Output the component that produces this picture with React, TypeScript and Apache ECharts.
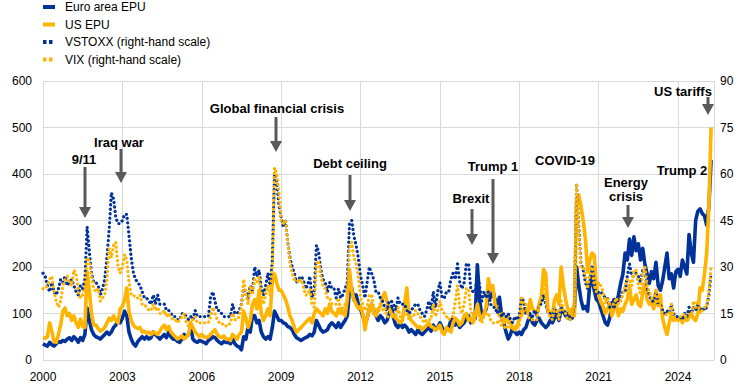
import React, { useEffect, useRef } from "react";
import * as echarts from "echarts";

// Monthly data, January 2000 to April 2025
const startYear = 2000;
const xTickYears = [2000, 2003, 2006, 2009, 2012, 2015, 2018, 2021, 2024];

const euroEPU = [
  35, 32, 30, 38, 33, 30, 35, 40, 38, 42, 40, 45,
  48, 42, 50, 45, 38, 48, 42, 55, 112, 85, 65, 55,
  50, 48, 45, 50, 55, 60, 55, 60, 70, 75, 85, 80,
  90, 105, 95, 60, 45, 35, 30, 40, 45, 50, 45, 50,
  45, 48, 60, 55, 50, 45, 50, 55, 48, 60, 50, 45,
  45, 40, 38, 45, 55, 50, 55, 70, 45, 40, 38, 42,
  40, 38, 35, 42, 45, 50, 48, 42, 38, 35, 40, 38,
  38, 35, 45, 35, 30, 28, 22, 50, 45, 70, 60, 95,
  95, 80, 85, 60, 50, 45, 50, 45, 70, 105, 95, 85,
  85, 80, 78, 72, 70, 65, 55, 48, 45, 42, 45, 48,
  50, 55, 52, 60, 85, 75, 65, 60, 62, 65, 75, 80,
  75, 70, 80, 70, 78, 85, 95, 150, 155, 130, 140, 120,
  110, 95, 80, 90, 110, 120, 105, 95, 85, 95, 90, 80,
  85, 100, 115, 90, 75, 70, 80, 70, 75, 70, 60, 65,
  60, 55, 65, 58, 55, 60, 65, 70, 62, 75, 65, 70,
  80, 70, 60, 65, 70, 85, 90, 75, 80, 70, 75, 80,
  90, 95, 80, 85, 90, 205, 130, 95, 100, 110, 140, 135,
  150, 130, 120, 135, 95, 80, 60, 45, 55, 70, 60, 55,
  60, 55, 65, 70, 85, 95, 80, 75, 85, 90, 80, 75,
  70, 75, 85, 80, 90, 100, 85, 110, 105, 95, 100, 90,
  90, 110, 200, 160, 130, 110, 115, 105, 165, 175, 150, 130,
  125, 110, 95, 80, 75, 90, 115, 130, 120, 140, 165, 185,
  230, 215, 260, 225, 265, 235, 250, 215, 240, 205, 185, 165,
  190, 175, 210, 160, 150, 170, 200, 230, 175, 185, 155, 190,
  195, 180, 215, 200, 185, 270, 230, 210, 300, 320, 325, 315,
  310, 290, 330, 430,
];

const usEPU = [
  48, 47, 50, 80, 62, 40, 38, 55, 75, 105, 112, 95,
  100, 85, 95, 80, 70, 88, 72, 70, 190, 150, 100, 75,
  75, 68, 62, 65, 70, 80, 90, 85, 95, 85, 80, 110,
  115, 130, 155, 105, 85, 75, 70, 68, 70, 60, 62, 58,
  60, 55, 60, 58, 55, 62, 70, 75, 65, 72, 60, 55,
  50, 45, 48, 52, 45, 50, 55, 80, 70, 60, 55, 50,
  55, 50, 48, 50, 55, 60, 65, 55, 50, 48, 52, 45,
  45, 42, 55, 50, 45, 55, 60, 105, 90, 70, 85, 120,
  130, 110, 150, 100, 85, 95, 110, 95, 170, 185, 165, 150,
  150, 140, 130, 115, 95, 85, 70, 60, 65, 70, 75, 80,
  85, 90, 80, 100, 110, 105, 100, 95, 110, 100, 120, 105,
  100, 95, 110, 100, 105, 95, 130, 195, 150, 130, 120, 110,
  115, 100, 65, 90, 110, 120, 100, 95, 110, 115, 135, 145,
  125, 110, 100, 95, 90, 85, 80, 85, 120, 155, 95, 85,
  80, 75, 70, 72, 65, 70, 75, 80, 72, 70, 65, 68,
  75, 60, 55, 70, 65, 60, 80, 90, 85, 75, 80, 95,
  100, 85, 90, 80, 95, 120, 95, 90, 100, 115, 175, 150,
  160, 120, 110, 95, 100, 80, 85, 95, 80, 70, 65, 70,
  90, 95, 110, 105, 100, 130, 110, 105, 100, 120, 135, 195,
  185, 110, 100, 95, 130, 140, 120, 200, 160, 130, 110, 100,
  110, 95, 340, 355, 330, 300, 260, 190, 215, 230, 225, 155,
  140, 125, 115, 100, 110, 120, 95, 110, 120, 95, 110, 105,
  120, 130, 160, 120, 130, 140, 120, 115, 145, 165, 130, 120,
  125, 110, 150, 120, 140, 90, 70, 55, 80, 100, 85, 90,
  85, 90, 80, 95, 85, 95, 100, 90, 85, 100, 155, 150,
  185, 230, 330, 500,
];

const vstoxx = [
  28, 27, 24, 22, 25, 22, 21, 23, 26, 25, 27, 24,
  25, 26, 24, 22, 21, 24, 23, 26, 43, 35, 28, 25,
  25, 24, 21, 23, 26, 33, 42, 54, 52, 46, 44, 44,
  45, 47, 47, 40, 33, 28, 26, 25, 24, 22, 20, 20,
  19, 18, 21, 18, 21, 18, 18, 18, 16, 16, 15, 14,
  14, 13, 13, 15, 15, 14, 13, 14, 13, 16, 14, 14,
  14, 14, 14, 14, 20, 22, 19, 16, 16, 15, 14, 14,
  14, 14, 18, 15, 15, 16, 18, 23, 22, 20, 24, 22,
  30, 27, 29, 23, 21, 24, 28, 24, 32, 60, 58, 50,
  46, 43, 45, 38, 33, 30, 28, 25, 26, 27, 26, 23,
  24, 27, 20, 22, 37, 35, 29, 26, 25, 22, 25, 23,
  23, 20, 23, 20, 21, 23, 25, 44, 45, 40, 37, 33,
  27, 24, 20, 25, 30, 28, 26, 22, 22, 20, 19, 17,
  16, 19, 19, 18, 16, 20, 18, 18, 18, 16, 15, 16,
  17, 18, 18, 16, 15, 14, 16, 19, 16, 22, 17, 22,
  25, 20, 20, 22, 22, 26, 28, 26, 31, 25, 23, 25,
  31, 31, 23, 22, 22, 28, 24, 19, 22, 20, 22, 18,
  17, 17, 15, 17, 14, 15, 14, 15, 13, 12, 14, 13,
  14, 20, 19, 15, 15, 15, 14, 16, 14, 18, 18, 21,
  18, 15, 15, 13, 17, 15, 14, 18, 15, 16, 13, 13,
  14, 18, 57, 43, 31, 29, 25, 23, 25, 30, 25, 21,
  22, 22, 21, 20, 20, 17, 19, 17, 19, 19, 20, 22,
  22, 27, 31, 27, 27, 28, 27, 25, 29, 29, 23, 21,
  19, 19, 22, 18, 18, 16, 15, 16, 15, 18, 15, 14,
  14, 14, 13, 15, 14, 17, 15, 17, 16, 18, 16, 17,
  16, 17, 21, 28,
];

const vix = [
  23, 23, 24, 26, 27, 22, 19, 17, 19, 24, 26, 27,
  25, 24, 29, 28, 22, 20, 21, 23, 33, 32, 27, 23,
  22, 23, 19, 20, 21, 26, 36, 33, 37, 38, 30, 28,
  30, 34, 32, 25, 21, 21, 20, 20, 21, 18, 18, 17,
  16, 16, 18, 16, 17, 15, 15, 16, 14, 15, 14, 13,
  13, 12, 13, 14, 15, 12, 11, 13, 13, 14, 12, 12,
  12, 12, 12, 12, 14, 17, 15, 13, 12, 12, 11, 11,
  11, 12, 15, 13, 13, 14, 17, 26, 21, 18, 24, 21,
  26, 25, 27, 21, 18, 21, 24, 21, 29, 62, 60, 54,
  45, 44, 45, 38, 31, 28, 26, 26, 25, 26, 24, 21,
  21, 23, 18, 17, 31, 32, 27, 24, 23, 20, 20, 18,
  18, 18, 20, 16, 17, 18, 19, 36, 38, 33, 31, 27,
  20, 18, 16, 17, 21, 21, 17, 16, 16, 16, 16, 17,
  14, 14, 14, 14, 14, 17, 14, 14, 15, 15, 13, 14,
  14, 16, 15, 14, 13, 12, 13, 13, 13, 18, 14, 16,
  19, 16, 15, 14, 13, 14, 14, 19, 24, 17, 15, 18,
  23, 23, 16, 14, 15, 17, 13, 12, 14, 15, 15, 13,
  12, 12, 12, 13, 11, 11, 10, 12, 10, 10, 11, 11,
  11, 20, 18, 18, 14, 13, 13, 13, 13, 18, 20, 25,
  20, 15, 14, 13, 17, 16, 13, 19, 16, 15, 13, 13,
  14, 19, 57, 41, 30, 30, 27, 23, 28, 30, 24, 22,
  25, 24, 22, 18, 20, 18, 18, 18, 20, 18, 19, 21,
  24, 26, 26, 24, 29, 29, 24, 21, 28, 30, 24, 22,
  20, 20, 22, 17, 18, 14, 14, 15, 15, 18, 14, 13,
  13, 14, 14, 15, 13, 13, 14, 19, 17, 19, 15, 16,
  17, 17, 22, 30,
];

const seriesNames = [
  "Euro area EPU",
  "US EPU",
  "VSTOXX (right-hand scale)",
  "VIX (right-hand scale)",
];

// Event annotations (pixel layout)
const annotations = [
  { label: "9/11", tx: 84, ty: 159, ax: 85, a0: 167, a1: 218 },
  { label: "Iraq war", tx: 119, ty: 142, ax: 121, a0: 149, a1: 183 },
  { label: "Global financial crisis", tx: 277, ty: 108, ax: 276, a0: 117, a1: 152 },
  { label: "Debt ceiling", tx: 350, ty: 163, ax: 350, a0: 175, a1: 211 },
  { label: "Brexit", tx: 471, ty: 198, ax: 472, a0: 209, a1: 245 },
  { label: "Trump 1", tx: 493, ty: 166, ax: 493, a0: 179, a1: 264 },
  { label: "COVID-19", tx: 565, ty: 160 },
  { label: "Energy\ncrisis", tx: 626, ty: 189, ax: 628, a0: 205, a1: 228 },
  { label: "Trump 2", tx: 682, ty: 170 },
  { label: "US tariffs", tx: 683, ty: 91, ax: 708, a0: 97, a1: 115 },
];

const BLUE = "#003299";
const YELLOW = "#FFB400";
const ARROW = "#595959";
const FONT = 'Arial, "Liberation Sans", sans-serif';

const toPoints = (arr: number[]) => arr.map((v, i) => [startYear + i / 12, v]);

export default function App() {
  const ref = useRef<HTMLDivElement>(null);

  useEffect(() => {
    if (!ref.current) return;
    const chart = echarts.init(ref.current, null, { renderer: "svg" });

    const graphic: any[] = [];
    annotations.forEach((a) => {
      graphic.push({
        type: "text",
        x: a.tx,
        y: a.ty,
        z: 100,
        style: {
          text: a.label,
          fill: "#000",
          font: `bold 13px ${FONT}`,
          align: "center",
          verticalAlign: "middle",
          lineHeight: 14,
        },
      });
      if (a.ax !== undefined) {
        graphic.push({
          type: "line",
          z: 100,
          shape: { x1: a.ax, y1: a.a0, x2: a.ax, y2: a.a1! - 10 },
          style: { stroke: ARROW, lineWidth: 3 },
        });
        graphic.push({
          type: "polygon",
          z: 100,
          shape: {
            points: [
              [a.ax - 6, a.a1! - 11],
              [a.ax + 6, a.a1! - 11],
              [a.ax, a.a1!],
            ],
          },
          style: { fill: ARROW },
        });
      }
    });

    const solidIcon = "path://M0,0h12v4h-12z M16.99,0h0.01v0.01h-0.01z";
    const dotIcon = "path://M0,0h3.5v4h-3.5z M6,0h3.5v4h-3.5z M16.99,0h0.01v0.01h-0.01z";

    chart.setOption({
      animation: false,
      textStyle: { fontFamily: FONT },
      grid: { left: 43, right: 28, top: 81, bottom: 27, containLabel: false },
      legend: {
        orient: "vertical",
        left: 43,
        top: 0,
        padding: 0,
        itemGap: 3.5,
        itemWidth: 17,
        itemHeight: 4,
        symbolKeepAspect: false,
        itemStyle: { borderWidth: 0 },
        textStyle: { color: "#000", fontSize: 12, lineHeight: 14, fontFamily: FONT },
        data: [
          { name: seriesNames[0], icon: solidIcon },
          { name: seriesNames[1], icon: solidIcon },
          { name: seriesNames[2], icon: dotIcon },
          { name: seriesNames[3], icon: dotIcon },
        ],
      },
      xAxis: {
        type: "value",
        min: 2000,
        max: 2025.36,
        interval: 3,
        axisLine: { show: false },
        axisTick: { show: false },
        splitLine: { show: true, lineStyle: { color: "#d9d9d9", width: 1 } },
        axisLabel: {
          color: "#000",
          fontSize: 12,
          margin: 11,
          formatter: (v: number) => {
            const r = Math.round(v);
            return Math.abs(v - r) < 1e-6 && xTickYears.includes(r) ? String(r) : "";
          },
        },
      },
      yAxis: [
        {
          type: "value",
          min: 0,
          max: 600,
          interval: 100,
          axisLine: { show: false },
          axisTick: { show: false },
          splitLine: { show: true, lineStyle: { color: "#d9d9d9", width: 1 } },
          axisLabel: { color: "#000", fontSize: 12, margin: 11 },
        },
        {
          type: "value",
          min: 0,
          max: 90,
          interval: 15,
          position: "right",
          axisLine: { show: false },
          axisTick: { show: false },
          splitLine: { show: false },
          axisLabel: { color: "#000", fontSize: 12, margin: 6 },
        },
      ],
      series: [
        {
          name: seriesNames[0],
          type: "line",
          yAxisIndex: 0,
          data: toPoints(euroEPU),
          showSymbol: false,
          symbol: "none",
          color: BLUE,
          lineStyle: { color: BLUE, width: 3.6, join: "round" },
        },
        {
          name: seriesNames[1],
          type: "line",
          yAxisIndex: 0,
          data: toPoints(usEPU),
          showSymbol: false,
          symbol: "none",
          color: YELLOW,
          lineStyle: { color: YELLOW, width: 3.6, join: "round" },
        },
        {
          name: seriesNames[2],
          type: "line",
          yAxisIndex: 1,
          data: toPoints(vstoxx),
          showSymbol: false,
          symbol: "none",
          color: BLUE,
          lineStyle: { color: BLUE, width: 3.2, type: [0.1, 4.4], cap: "round", join: "round" },
        },
        {
          name: seriesNames[3],
          type: "line",
          yAxisIndex: 1,
          data: toPoints(vix),
          showSymbol: false,
          symbol: "none",
          color: YELLOW,
          lineStyle: { color: YELLOW, width: 3.2, type: [0.1, 4.4], cap: "round", join: "round" },
        },
      ],
      graphic,
    });

    return () => chart.dispose();
  }, []);

  return (
    <div
      ref={ref}
      style={{ position: "absolute", left: 0, top: 0, width: 742, height: 387, background: "#fff" }}
    />
  );
}
